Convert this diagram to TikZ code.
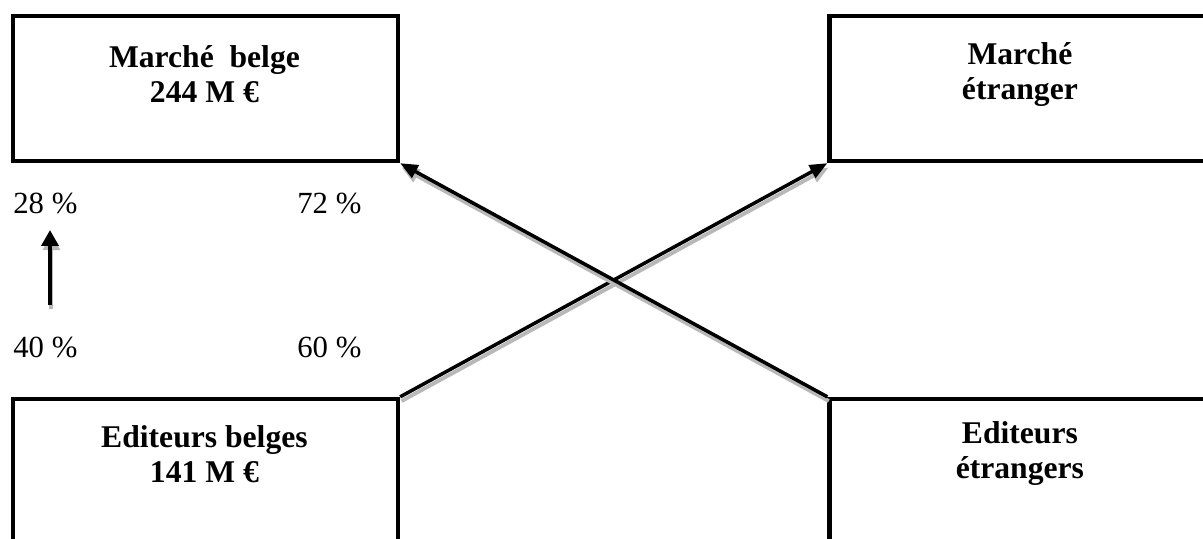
\documentclass[tikz,border=0pt]{standalone}
\usepackage{fontspec}
\setmainfont{Liberation Serif}
\usepackage{xcolor}
\usepackage{tikz}
\usetikzlibrary{
  arrows.meta,
  positioning
}
\definecolor{shade}{HTML}{B8B8B8}
\tikzset{
  mktbox/.style={
    rectangle, draw=black, line width=2.5pt, fill=white,
    minimum width=7.7cm, minimum height=2.9cm, inner sep=0pt
  },
  boxtext/.style={
    align=center, anchor=south, inner sep=0pt, text depth=0pt,
    font=\fontsize{18}{19.8}\selectfont\bfseries
  },
  pct/.style={
    anchor=base west, inner sep=0pt, font=\fontsize{17.5}{20}\selectfont
  },
  flow/.style={
    -{Triangle[length=10pt,width=8pt]}, line width=2pt,
    preaction={draw=shade, line width=2.2pt, transform canvas={xshift=0.8pt,yshift=-2.4pt}}
  },
}

\begin{document}
\begin{tikzpicture}[x=0.02cm, y=-0.02cm]
  \useasboundingbox (0,0) rectangle (1203,538);
  \clip (0,0) rectangle (1203,538);

  %% Markets (top row)
  \node[mktbox] (mbe) at (205.5,88.5) {};
  \node[mktbox] (met) at (1022,88.5) {};
  \node[boxtext] (mbetx) at ([xshift=-0.6pt,yshift=-8.2pt]mbe.center) {Marché~~belge\\244 M €};
  \node[boxtext] (mettx) at ([xshift=-1.2pt,yshift=-6.5pt]met.center) {Marché\\étranger};

  %% Publishers (bottom row)
  \node[mktbox] (ebe) at (205.5,471.5) {};
  \node[mktbox] (eet) at (1022,471.5) {};
  \node[boxtext] (ebetx) at ([xshift=-0.6pt,yshift=-6.5pt]ebe.center) {Editeurs belges\\141 M €};
  \node[boxtext] (eettx) at ([xshift=-1.2pt,yshift=-4pt]eet.center) {Editeurs\\étrangers};

  %% Shares
  \node[pct] (p28) at (13,213) {28 \%};
  \node[pct] (p72) at (297,213) {72 \%};
  \node[pct] (p40) at (13,357) {40 \%};
  \node[pct] (p60) at (297,357) {60 \%};
  \coordinate (up0) at (50,305);
  \coordinate (up1) at (50,230);

  \draw[flow, -{Triangle[length=9pt,width=9.5pt]}, line width=2.3pt] (up0) -- (up1);
  \draw[flow] (ebe.north east) -- (met.south west);
  \draw[flow] (eet.north west) -- (mbe.south east);

\end{tikzpicture}
\end{document}
